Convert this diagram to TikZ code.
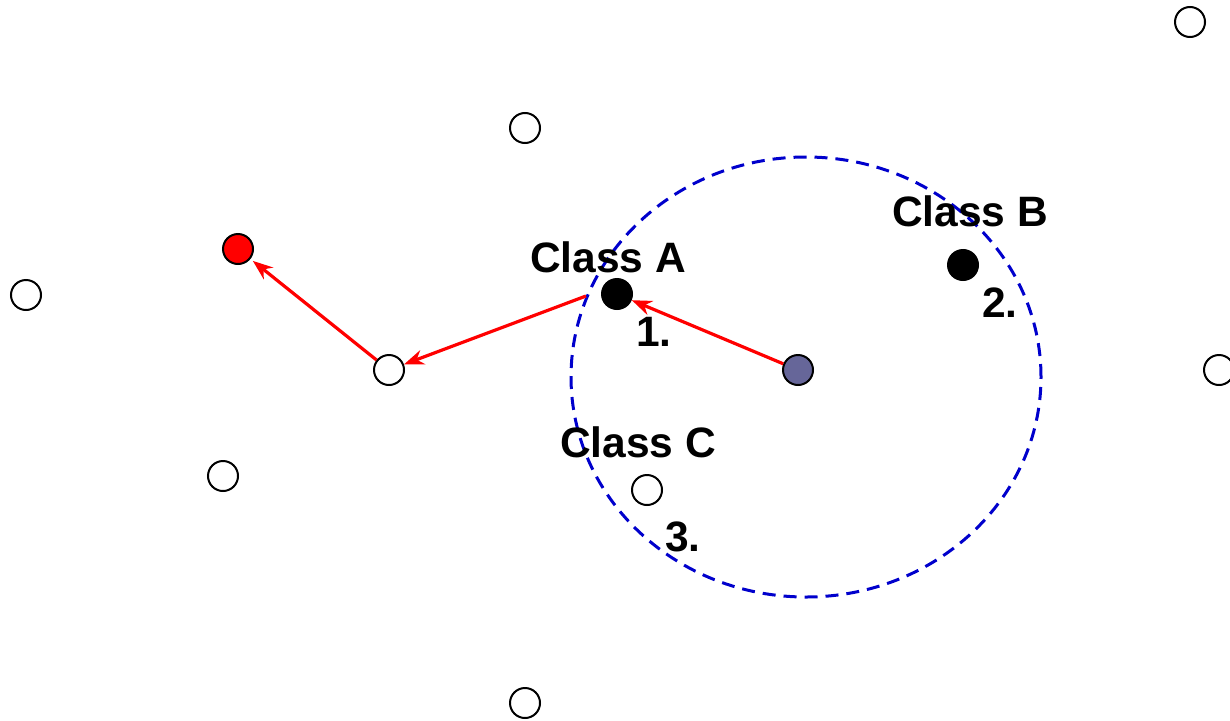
\documentclass[tikz,border=0pt]{standalone}
\usepackage{fontspec}
\setmainfont{Liberation Sans}
\usetikzlibrary{arrows.meta,shapes.geometric}
\begin{document}
\begin{tikzpicture}[x=1pt,y=-1pt,
  pt/.style={circle,draw=black,line width=2pt,minimum size=30pt,inner sep=0pt,fill=white},
  lbl/.style={font=\fontsize{42.5}{46}\selectfont\bfseries,inner sep=0pt},
  arr/.style={draw=red,line width=3.2pt,-{Stealth[length=20pt,width=15pt]}}]
\useasboundingbox (0,0) rectangle (1230,720);
\node[draw=blue!80!black,dash pattern=on 13pt off 8pt,line width=3pt,ellipse,minimum width=470pt,minimum height=440pt,inner sep=0pt] (ring) at (806,377) {};
\node[pt] (p1) at (1190,22) {};
\node[pt] (p2) at (525,128) {};
\node[pt,fill=red] (red) at (238,249) {};
\node[pt] (p3) at (26,295) {};
\node[pt,fill=black] (A) at (617,294) {};
\node[pt,fill=black] (B) at (963,265) {};
\node[pt,fill={rgb,255:red,102;green,102;blue,153}] (q) at (798,370) {};
\node[pt] (w) at (389,370) {};
\node[pt] (p4) at (1219,370) {};
\node[pt] (p5) at (223,476) {};
\node[pt] (C) at (647,490) {};
\node[pt] (p6) at (525,703) {};
\node[lbl] (la) at (608,257) {Class A};
\node[lbl] (n1) at (654,332) {1.};
\node[lbl] (lb) at (970,211) {Class B};
\node[lbl] (n2) at (1000,303) {2.};
\node[lbl] (lc) at (638,442) {Class C};
\node[lbl] (n3) at (683,537) {3.};
\coordinate (s2) at (586,296);
\draw[arr] (q) -- (A);
\draw[arr] (s2) -- (w);
\draw[arr,shorten >=3pt] (w) -- (red);
\end{tikzpicture}
\end{document}
